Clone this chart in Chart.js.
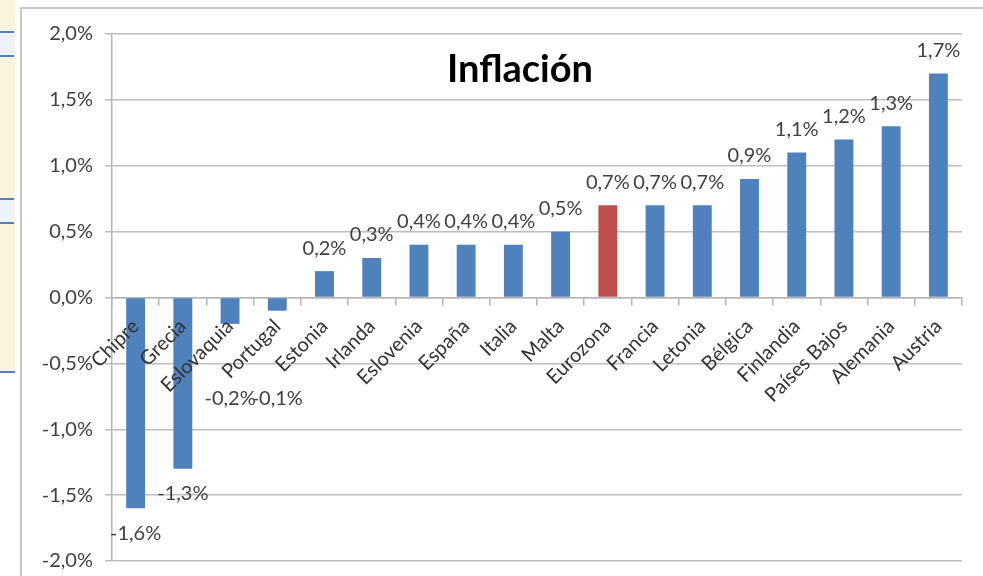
<!DOCTYPE html>
<html lang="es">
<head>
<meta charset="UTF-8">
<title>Inflación</title>
<script src="https://cdn.jsdelivr.net/npm/chart.js@4.4.0/dist/chart.umd.min.js"></script>
<style>
    html, body { margin: 0; padding: 0; background: #fff; }
    #wrap { position: relative; width: 983px; height: 576px; overflow: hidden; }
    /* bits of the spreadsheet behind the chart */
    .cells { position: absolute; left: 0; top: 0; width: 15px; height: 371px; background: #fbf5e0; border-bottom: 2px solid #4f7fbf; }
    .cell { position: absolute; left: 0; width: 14px; height: 22px; border-top: 2px solid #4f7fbf; border-bottom: 2px solid #4f7fbf; background: #eef3fb; }
    #chart { position: absolute; left: 0; top: 0; }
</style>
</head>
<body>
<div id="wrap">
    <div class="cells"></div>
    <div class="cell" style="top:31px"></div>
    <div class="cell" style="top:198px"></div>
    <canvas id="chart" width="983" height="576"></canvas>
</div>

<script>
const paises = ['Chipre', 'Grecia', 'Eslovaquia', 'Portugal', 'Estonia', 'Irlanda', 'Eslovenia', 'España', 'Italia', 'Malta',
                'Eurozona', 'Francia', 'Letonia', 'Bélgica', 'Finlandia', 'Países Bajos', 'Alemania', 'Austria'];
const inflacion = [-1.6, -1.3, -0.2, -0.1, 0.2, 0.3, 0.4, 0.4, 0.4, 0.5, 0.7, 0.7, 0.7, 0.9, 1.1, 1.2, 1.3, 1.7];
const yTicks = [-2.0, -1.5, -1.0, -0.5, 0.0, 0.5, 1.0, 1.5, 2.0];

const FONT = 'Lato, "DejaVu Sans", sans-serif';
const fmt = v => v.toFixed(1).replace('.', ',') + '%';

const extras = {
    id: 'extras',
    beforeDraw(chart) {
        const ctx = chart.ctx;
        ctx.save();
        ctx.strokeStyle = '#c8c8c8';
        ctx.lineWidth = 2;
        ctx.beginPath();
        ctx.moveTo(21, 600);
        ctx.lineTo(21, 8);
        ctx.lineTo(1000, 8);
        ctx.stroke();
        ctx.restore();
    },
    afterDatasetsDraw(chart) {
        const ctx = chart.ctx;
        const meta = chart.getDatasetMeta(0);
        const zero = chart.scales.y.getPixelForValue(0);
        ctx.save();
        ctx.font = '20px ' + FONT;
        ctx.fillStyle = '#404040';
        ctx.textAlign = 'center';
        ctx.textBaseline = 'middle';
        meta.data.forEach((bar, i) => {
            const v = inflacion[i];
            let y;
            if (v >= 0) {
                y = bar.y - 23;
            } else {
                // short negative bars get their label pushed below the category names
                y = Math.max(bar.y + 25, zero + 101);
            }
            ctx.fillText(fmt(v), bar.x, y);
        });
        ctx.restore();
    },
    afterDraw(chart) {
        const ctx = chart.ctx;
        ctx.save();
        ctx.font = 'bold 38px ' + FONT;
        ctx.fillStyle = '#000';
        ctx.textAlign = 'center';
        ctx.textBaseline = 'alphabetic';
        ctx.fillText('Inflación', 520, 82);
        ctx.restore();
    }
};

new Chart(document.getElementById('chart'), {
    type: 'bar',
    data: {
        labels: paises,
        datasets: [{
            data: inflacion,
            backgroundColor: paises.map(p => p === 'Eurozona' ? '#c0504d' : '#4f81bd'),
            borderWidth: 0,
            barPercentage: 0.4,
            categoryPercentage: 1.0
        }]
    },
    options: {
        responsive: false,
        animation: false,
        layout: { padding: { left: 0, right: 21, top: 34, bottom: 15 } },
        plugins: {
            legend: { display: false },
            tooltip: { enabled: false }
        },
        scales: {
            x: {
                position: { y: 0 },
                grid: { offset: true, drawOnChartArea: false, drawTicks: true, tickLength: 7, color: '#b5b5b5', lineWidth: 1.5 },
                border: { color: '#b5b5b5', width: 1.5 },
                ticks: {
                    z: 1,
                    autoSkip: false,
                    minRotation: 45,
                    maxRotation: 45,
                    padding: 10,
                    color: '#333',
                    font: { family: FONT, size: 20 }
                }
            },
            y: {
                min: -2,
                max: 2,
                afterFit(scale) {
                    scale.width = 112;
                    // keep the tick padding from eating into the plot height
                    scale.paddingTop = 0;
                    scale.paddingBottom = 0;
                },
                afterBuildTicks(scale) { scale.ticks = yTicks.map(v => ({ value: v })); },
                grid: { color: '#bdbdbd', lineWidth: 1.5, tickLength: 7 },
                border: { color: '#b5b5b5', width: 1.5 },
                ticks: {
                    padding: 12,
                    color: '#404040',
                    font: { family: FONT, size: 20 },
                    callback: v => fmt(v)
                }
            }
        }
    },
    plugins: [extras]
});
</script>
</body>
</html>
